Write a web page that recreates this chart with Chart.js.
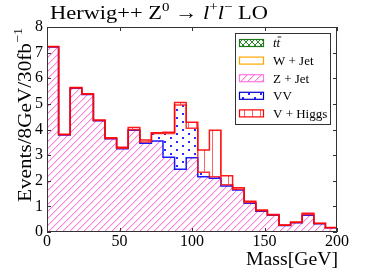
<!DOCTYPE html>
<html>
<head>
<meta charset="utf-8">
<script src="https://cdn.jsdelivr.net/npm/chart.js@4.4.0/dist/chart.umd.min.js"></script>
<style>
  html, body { margin: 0; background: #fff; }
</style>
</head>
<body>
<canvas id="hist" width="374" height="280"></canvas>
<script>
// bin edges in GeV (8 GeV bins)
const binEdges = [0, 8, 16, 24, 32, 40, 48, 56, 64, 72, 80, 88, 96, 104, 112, 120, 128, 136, 144, 152, 160, 168, 176, 184, 192, 200];

// events per bin
const ttbar = [0, 0, 0, 0, 0, 0, 0, 0, 0, 0, 0, 0, 0, 0, 0, 0, 0, 0, 0, 0, 0, 0, 0, 0, 0];
const wJet  = [0, 0, 0, 0, 0, 0, 0, 0, 0, 0, 0, 0, 0, 0, 0, 0, 0, 0, 0, 0, 0, 0, 0, 0, 0];
const zJet  = [7.22, 3.79, 5.61, 5.37, 4.34, 3.64, 3.25, 3.97, 3.46, 3.55, 2.92, 2.45, 2.90, 2.16, 2.10, 1.80, 1.64, 1.12, 0.81, 0.65, 0.25, 0.36, 0.65, 0.32, 0.17];
const vv    = [0.01, 0.01, 0.01, 0.01, 0.01, 0.01, 0.02, 0.02, 0.05, 0.29, 0.92, 2.51, 1.15, 0.17, 0.06, 0.04, 0.03, 0.03, 0.02, 0.01, 0.01, 0.01, 0.03, 0.01, 0.00];
const vHiggs = [0.01, 0.01, 0.02, 0.02, 0.02, 0.03, 0.04, 0.09, 0.08, 0.03, 0.05, 0.09, 0.23, 0.87, 1.81, 0.36, 0.06, 0.05, 0.03, 0.02, 0.01, 0.02, 0.05, 0.01, 0.01];

const xTicks = [0, 50, 100, 150, 200];
const yTicks = [0, 1, 2, 3, 4, 5, 6, 7, 8];

const SERIF = '"Liberation Serif", "DejaVu Serif", serif';

function makePattern(w, h, draw) {
  const c = document.createElement('canvas');
  c.width = w; c.height = h;
  const g = c.getContext('2d');
  draw(g);
  return g.createPattern(c, 'repeat');
}

// diagonal "/" hatch, a bit wider than a pixel so the pink survives
const pinkHatch = makePattern(7, 7, g => {
  g.fillStyle = 'rgb(255,125,220)';
  for (let i = 0; i < 7; i++) g.fillRect(i, 6 - i, 1, 1);
  g.fillStyle = 'rgba(255,125,220,0.35)';
  for (let i = 0; i < 7; i++) g.fillRect((i + 1) % 7, 6 - i, 1, 1);
});
const blueDots = makePattern(12, 8, g => {
  g.fillStyle = 'rgb(40,40,255)';
  g.fillRect(2, 1, 2, 2);
  g.fillRect(8, 5, 2, 2);
});
const redLines = makePattern(8, 8, g => {
  g.fillStyle = 'rgba(255,60,60,0.8)';
  g.fillRect(4, 0, 1, 8);
});
const greenCross = makePattern(6, 6, g => {
  g.fillStyle = 'rgb(40,140,40)';
  for (let i = 0; i < 6; i++) { g.fillRect(i, i, 1, 1); g.fillRect(i, 5 - i, 1, 1); }
});
const whiteFill = '#fff';

// stack by hand so the top component is drawn last
function cumulate(...parts) {
  return parts[0].map((_, i) => parts.reduce((s, p) => s + p[i], 0));
}
function steps(vals) {
  return binEdges.map((x, i) => ({ x, y: vals[Math.min(i, vals.length - 1)] }));
}

const cTt = cumulate(ttbar);
const cW = cumulate(ttbar, wJet);
const cZ = cumulate(ttbar, wJet, zJet);
const cVV = cumulate(ttbar, wJet, zJet, vv);
const cVH = cumulate(ttbar, wJet, zJet, vv, vHiggs);

const legendItems = [
  { label: 'tt', fill: greenCross, edge: 'rgb(30,120,30)' },
  { label: 'W + Jet', fill: whiteFill, edge: 'rgb(255,165,0)' },
  { label: 'Z + Jet', fill: pinkHatch, edge: 'rgb(255,120,220)' },
  { label: 'VV', fill: blueDots, edge: 'rgb(0,0,200)' },
  { label: 'V + Higgs', fill: redLines, edge: 'rgb(255,0,0)' },
];

const common = { stepped: true, pointRadius: 0, borderWidth: 1.5, tension: 0 };

// draw a run of text pieces, stretched horizontally to a target width
function textRun(ctx, pieces, width) {
  let total = 0;
  pieces.forEach(p => { ctx.font = p.font; total += ctx.measureText(p.t).width; });
  ctx.save();
  ctx.scale(width / total, 1);
  let x = 0;
  pieces.forEach(p => {
    ctx.font = p.font;
    ctx.fillText(p.t, x, p.dy || 0);
    x += ctx.measureText(p.t).width;
  });
  ctx.restore();
}

const decor = {
  id: 'decor',
  afterDraw(chart) {
    const { ctx, chartArea: a, scales } = chart;
    ctx.save();
    // frame and inward ticks
    ctx.strokeStyle = '#333';
    ctx.lineWidth = 1;
    ctx.strokeRect(a.left + 0.5, a.top + 0.5, a.right - a.left - 1, a.bottom - a.top - 1);
    ctx.beginPath();
    xTicks.forEach(v => {
      const px = Math.round(scales.x.getPixelForValue(v)) + 0.5;
      ctx.moveTo(px, a.bottom); ctx.lineTo(px, a.bottom - 4);
      ctx.moveTo(px, a.top); ctx.lineTo(px, a.top + 4);
    });
    yTicks.forEach(v => {
      const py = Math.round(scales.y.getPixelForValue(v)) + 0.5;
      ctx.moveTo(a.left, py); ctx.lineTo(a.left + 4, py);
      ctx.moveTo(a.right, py); ctx.lineTo(a.right - 4, py);
    });
    ctx.stroke();

    ctx.fillStyle = '#000';
    ctx.textBaseline = 'alphabetic';
    ctx.textAlign = 'left';

    // title
    ctx.save();
    ctx.translate(50, 19);
    textRun(ctx, [
      { t: 'Herwig++ Z', font: `19.5px ${SERIF}` },
      { t: '0', font: `13px ${SERIF}`, dy: -8 },
      { t: ' \u2192 ', font: `19.5px ${SERIF}` },
      { t: 'l', font: `italic 19.5px ${SERIF}` },
      { t: '+', font: `13px ${SERIF}`, dy: -8 },
      { t: 'l', font: `italic 19.5px ${SERIF}` },
      { t: '\u2212', font: `13px ${SERIF}`, dy: -8 },
      { t: ' LO', font: `19.5px ${SERIF}` },
    ], 218);
    ctx.restore();

    // x axis title
    ctx.save();
    ctx.translate(a.right + 1 - 92, 265);
    textRun(ctx, [{ t: 'Mass[GeV]', font: `19px ${SERIF}` }], 92);
    ctx.restore();

    // y axis title
    ctx.save();
    ctx.translate(31, a.bottom - 30);
    ctx.rotate(-Math.PI / 2);
    textRun(ctx, [
      { t: 'Events/8GeV/30fb', font: `19.5px ${SERIF}` },
      { t: '\u22121', font: `13px ${SERIF}`, dy: -9 },
    ], 174);
    ctx.restore();

    // legend
    const bw = 95, bh = 91;
    const lx = a.right - 7 - bw, ly = a.top + 6;
    ctx.fillStyle = '#fff';
    ctx.fillRect(lx, ly, bw, bh);
    ctx.strokeStyle = '#333';
    ctx.strokeRect(lx + 0.5, ly + 0.5, bw, bh);
    ctx.textBaseline = 'middle';
    legendItems.forEach((it, i) => {
      const cy = ly + 10 + i * 17.6;
      ctx.fillStyle = it.fill;
      ctx.fillRect(lx + 4.5, cy - 3.5, 24, 7);
      ctx.strokeStyle = it.edge;
      ctx.lineWidth = 1.2;
      ctx.strokeRect(lx + 4.5, cy - 3.5, 24, 7);
      ctx.fillStyle = '#000';
      if (it.label === 'tt') {
        ctx.font = `italic 13px ${SERIF}`;
        ctx.fillText('tt', lx + 38, cy + 1);
        const t1 = ctx.measureText('t').width;
        ctx.lineWidth = 0.9;
        ctx.strokeStyle = '#000';
        ctx.beginPath();
        ctx.moveTo(lx + 38 + t1 + 1, cy - 6);
        ctx.lineTo(lx + 38 + 2 * t1 + 1, cy - 6);
        ctx.stroke();
      } else {
        ctx.font = `13px ${SERIF}`;
        ctx.fillText(it.label, lx + 38, cy + 1);
      }
    });
    ctx.restore();
  },
};

new Chart(document.getElementById('hist'), {
  type: 'line',
  data: {
    datasets: [
      { ...common, label: 'V + Higgs', data: steps(cVH), borderColor: 'rgba(255,0,0,0.9)', backgroundColor: redLines, fill: '+1' },
      { ...common, label: 'VV', data: steps(cVV), borderColor: 'rgba(255,20,20,0.85)', backgroundColor: blueDots, fill: '+1' },
      { ...common, label: 'Z + Jet', data: steps(cZ), borderColor: 'rgba(0,0,255,0.9)', backgroundColor: pinkHatch, fill: 'origin' },
      { ...common, label: 'W + Jet', data: steps(cW), borderColor: 'transparent', backgroundColor: whiteFill, fill: false },
      { ...common, label: 'tt', data: steps(cTt), borderColor: 'transparent', backgroundColor: greenCross, fill: false },
    ],
  },
  options: {
    responsive: false,
    animation: false,
    devicePixelRatio: 1,
    layout: { padding: { top: 27, right: 37, left: 0, bottom: 0 } },
    plugins: {
      legend: { display: false },
      tooltip: { enabled: false },
    },
    scales: {
      x: {
        type: 'linear',
        min: 0,
        max: 200,
        afterBuildTicks: s => { s.ticks = xTicks.map(v => ({ value: v })); },
        afterFit: s => { s.height = 48; },
        ticks: { font: { family: SERIF, size: 16 }, color: '#000', padding: 0, maxRotation: 0 },
        grid: { drawOnChartArea: false, drawTicks: false },
        border: { display: false },
      },
      y: {
        min: 0,
        max: 8,
        afterBuildTicks: s => { s.ticks = yTicks.map(v => ({ value: v })); },
        afterFit: s => { s.width = 47; },
        ticks: { font: { family: SERIF, size: 16 }, color: '#000', padding: 4 },
        grid: { drawOnChartArea: false, drawTicks: false },
        border: { display: false },
      },
    },
  },
  plugins: [decor],
});
</script>
</body>
</html>
